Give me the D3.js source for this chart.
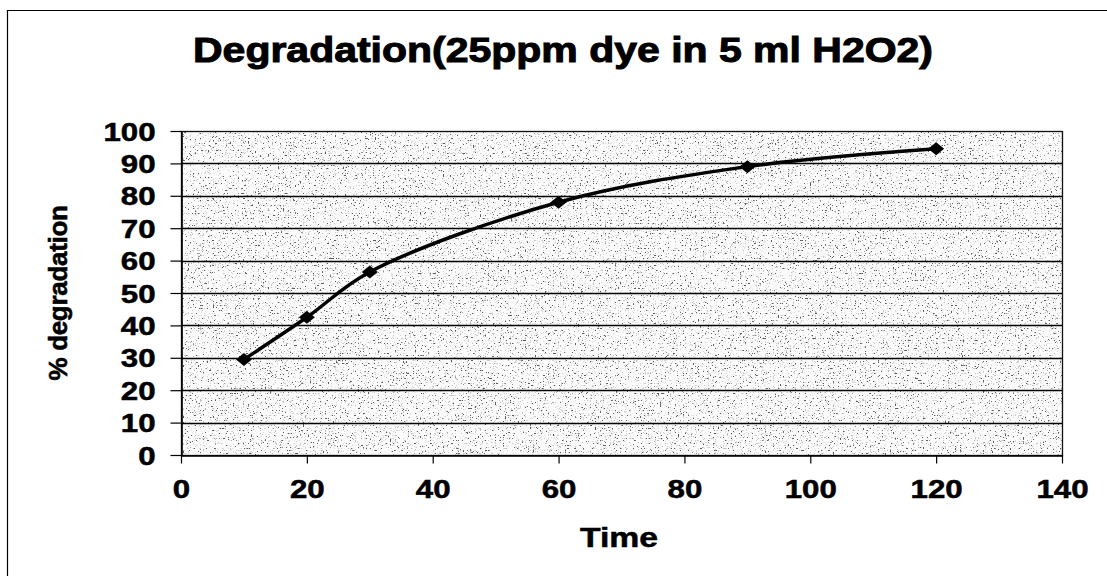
<!DOCTYPE html>
<html>
<head>
<meta charset="utf-8">
<script src="https://cdn.jsdelivr.net/npm/d3@7"></script>
<style>
  html, body { margin: 0; padding: 0; background: #fff; }
  svg { display: block; }
  text { font-family: "Liberation Sans", Arial, sans-serif; font-weight: bold; fill: #000; }
</style>
</head>
<body>
<svg id="chart" width="1107" height="576"></svg>
<script>
// Degradation of 25 ppm dye in 5 ml H2O2 over time
const timeValues = [10, 20, 30, 60, 90, 120];
const degradationValues = [29.5, 42.5, 56.5, 78, 89, 94.5];
const xTickValues = [0, 20, 40, 60, 80, 100, 120, 140];
const yTickValues = [0, 10, 20, 30, 40, 50, 60, 70, 80, 90, 100];
const chartTitle = "Degradation(25ppm dye in 5 ml H2O2)";
const xTitle = "Time";
const yTitle = "% degradation";

const svg = d3.select("#chart");
const W = 1107, H = 576;
const plot = { left: 181, right: 1062, top: 131, bottom: 455 };
const FONT = "'Liberation Sans', Arial, sans-serif";
const WIDE = 1.25;          // horizontal stretch of the lettering

// speckled fill for the plot area
const defs = svg.append("defs");
const speckle = defs.append("filter").attr("id", "speckle")
  .attr("x", 0).attr("y", 0).attr("width", 1).attr("height", 1)
  .attr("filterUnits", "objectBoundingBox");
speckle.append("feTurbulence")
  .attr("type", "fractalNoise").attr("baseFrequency", 0.6)
  .attr("numOctaves", 2).attr("seed", 11).attr("result", "noise");
// dark dots where the noise dips low
speckle.append("feColorMatrix")
  .attr("in", "noise").attr("type", "matrix")
  .attr("values", "0 0 0 0 0.1  0 0 0 0 0.1  0 0 0 0 0.1  -14 0 0 0 4.75")
  .attr("result", "dark");
// lighter grey dots from a second band of the noise
speckle.append("feColorMatrix")
  .attr("in", "noise").attr("type", "matrix")
  .attr("values", "0 0 0 0 0.6  0 0 0 0 0.6  0 0 0 0 0.6  0 -14 0 0 5.0")
  .attr("result", "grey");
speckle.append("feFlood").attr("flood-color", "#fbfbfb").attr("result", "bg");
speckle.append("feComposite").attr("in", "grey").attr("in2", "bg").attr("operator", "over").attr("result", "g1");
speckle.append("feComposite").attr("in", "dark").attr("in2", "g1").attr("operator", "over");

// outer chart frame (continues past the right and bottom edges)
svg.append("path")
  .attr("d", `M7.5,${H + 2} L7.5,10.5 L${W + 2},10.5`)
  .attr("fill", "none").attr("stroke", "#000").attr("stroke-width", 1.2);

const x = d3.scaleLinear().domain([0, 140]).range([plot.left, plot.right]);
const y = d3.scaleLinear().domain([0, 100]).range([plot.bottom, plot.top]);

svg.append("rect")
  .attr("x", plot.left).attr("y", plot.top)
  .attr("width", plot.right - plot.left).attr("height", plot.bottom - plot.top)
  .attr("fill", "#eee").attr("filter", "url(#speckle)");

// horizontal gridlines
svg.append("g").selectAll("line")
  .data(yTickValues.filter(v => v > 0 && v < 100))
  .join("line")
  .attr("x1", plot.left).attr("x2", plot.right)
  .attr("y1", d => Math.round(y(d)) + 0.5).attr("y2", d => Math.round(y(d)) + 0.5)
  .attr("stroke", "#000").attr("stroke-width", 1.3);

// plot-area border
svg.append("rect")
  .attr("x", plot.left + 0.5).attr("y", plot.top + 0.5)
  .attr("width", plot.right - plot.left).attr("height", plot.bottom - plot.top)
  .attr("fill", "none").attr("stroke", "#111").attr("stroke-width", 1.3);

// y axis
const yTick = 11, yPad = 15;
const yAxis = d3.axisLeft(y).tickValues(yTickValues).tickSize(yTick).tickPadding(yPad).tickSizeOuter(0);
const gy = svg.append("g").attr("transform", `translate(${plot.left + 0.5},0)`).call(yAxis);
gy.select(".domain").attr("stroke", "#000").attr("stroke-width", 1.6);
gy.selectAll(".tick line").attr("stroke", "#000").attr("stroke-width", 1.2);
gy.selectAll(".tick text")
  .style("font-size", "25px").style("font-family", FONT)
  .style("font-weight", "bold").attr("fill", "#000")
  .attr("stroke", "#000").attr("stroke-width", 0.5)
  .attr("x", -(yTick + yPad) / WIDE).attr("dy", "0.36em")
  .attr("transform", `scale(${WIDE},1)`);

// x axis
const xAxis = d3.axisBottom(x).tickValues(xTickValues).tickSize(8).tickPadding(17).tickSizeOuter(0);
const gx = svg.append("g").attr("transform", `translate(0,${plot.bottom + 0.5})`).call(xAxis);
gx.select(".domain").attr("stroke", "#000").attr("stroke-width", 1.6);
gx.selectAll(".tick line").attr("stroke", "#000").attr("stroke-width", 1.2);
gx.selectAll(".tick text")
  .style("font-size", "25px").style("font-family", FONT)
  .style("font-weight", "bold").attr("fill", "#000")
  .attr("stroke", "#000").attr("stroke-width", 0.5)
  .attr("transform", `scale(${WIDE},1)`);

// smoothed series line
const points = timeValues.map((t, i) => [t, degradationValues[i]]);
const line = d3.line().x(d => x(d[0])).y(d => y(d[1])).curve(d3.curveCatmullRom.alpha(0.5));
svg.append("path").datum(points)
  .attr("d", line).attr("fill", "none")
  .attr("stroke", "#000").attr("stroke-width", 3.5);

// diamond markers
svg.append("g").selectAll("path")
  .data(points).join("path")
  .attr("transform", d => `translate(${x(d[0])},${y(d[1])})`)
  .attr("d", "M0,-6.5 L8,0 L0,6.5 L-8,0 Z")
  .attr("fill", "#000");

// titles
svg.append("text").attr("x", 563).attr("y", 62)
  .attr("text-anchor", "middle").style("font-size", "35px")
  .attr("stroke", "#000").attr("stroke-width", 1)
  .attr("textLength", 740).attr("lengthAdjust", "spacingAndGlyphs")
  .text(chartTitle);

svg.append("text")
  .attr("transform", `translate(619,547) scale(${WIDE},1)`)
  .attr("text-anchor", "middle").style("font-size", "27px")
  .attr("stroke", "#000").attr("stroke-width", 0.5)
  .text(xTitle);

svg.append("text")
  .attr("transform", "translate(67,293) rotate(-90)")
  .attr("text-anchor", "middle").style("font-size", "26px")
  .attr("stroke", "#000").attr("stroke-width", 0.6)
  .style("letter-spacing", "-0.3px")
  .text(yTitle);
</script>
</body>
</html>
